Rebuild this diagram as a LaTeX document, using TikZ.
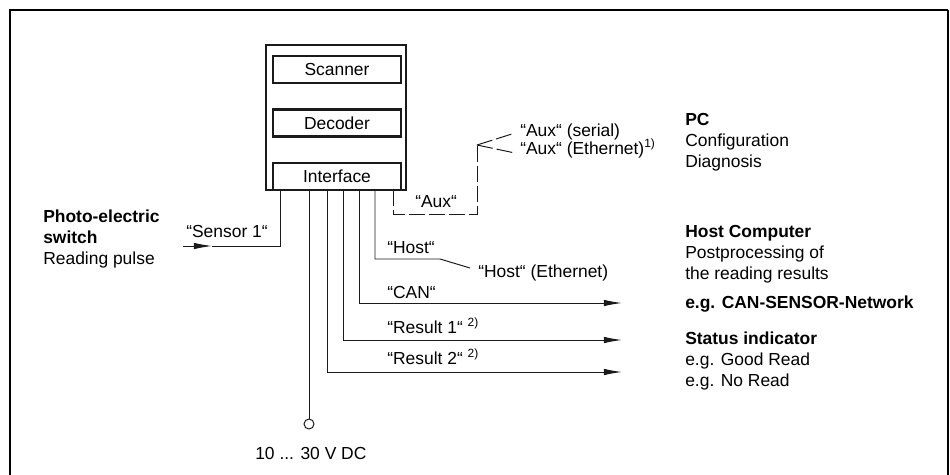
\documentclass[tikz,border=0pt]{standalone}
\usepackage{fontspec}
\setmainfont{Liberation Sans}
\usepackage{tikz}
\usetikzlibrary{arrows.meta,positioning,calc}
\definecolor{WireBlack}{HTML}{1A1A1A}
\newcommand{\fnmark}[1]{\raisebox{0.38em}{\fontsize{8.5}{9}\selectfont #1}}

\begin{document}
\begin{tikzpicture}[
    x=0.025cm,y=-0.025cm,
    every node/.style={font=\fontsize{12.4}{14.9}\selectfont, inner sep=0pt},
    unit/.style={draw=WireBlack, line width=1.5pt, minimum width=3.2cm, minimum height=0.675cm, align=center},
    housing/.style={draw=WireBlack, line width=1.6pt, minimum width=3.5cm, minimum height=3.625cm},
    wire/.style={draw=WireBlack, line width=0.7pt},
    outwire/.style={wire, -{Latex[length=4.5mm,width=1.6mm]}},
    auxline/.style={wire, dash pattern=on 0.4cm off 0.1cm},
    lbl/.style={anchor=base west},
    desc/.style={anchor=base west, align=left}
  ]
    \useasboundingbox (0,0) rectangle (950,475);
    % frame
    \draw[line width=1.5pt] (10,475) -- (10,10) -- (948,10);
    \draw[line width=0.8pt] (948,10) -- (948,475);

    % device
    \node[housing] (dev) at (336,117.5) {};
    \node[unit] (scan) at (337,69.5) {Scanner};
    \node[unit] (dec) at (337,123) {Decoder};
    \node[unit] (intf) at (337,176.5) {Interface};

    \foreach \n/\x in {tS/280,tP/309,tR2/327,tR1/343,tC/359,tH/375,tA/393}{\coordinate (\n) at (\x,190);}

    % Sensor 1 input
    \coordinate (sIn) at (183,246);
    \coordinate (sTip) at (212,246);
    \draw[outwire] (sIn) -- (sTip);
    \draw[wire] (sTip) -- (tS |- sIn) -- (tS);
    \node[lbl] (sens) at (186,237) {“Sensor 1“};
    % multi-line nodes: base = last line
    \node[desc] (photo) at (43,264) {\textbf{Photo-electric}\\\textbf{switch}\\Reading pulse};

    % supply
    \node[draw=WireBlack, line width=0.7pt, circle, minimum size=0.25cm] (pwr) at (309,424) {};
    \draw[wire] (tP) -- (pwr.north);
    \node[lbl] (volt) at (255,459) {10 ... 30 V DC};

    % outputs
    \coordinate (eC) at (622,303);
    \coordinate (eR1) at (622,340);
    \coordinate (eR2) at (622,372);
    \draw[outwire] (tC) -- (tC |- eC) -- (eC);
    \draw[outwire] (tR1) -- (tR1 |- eR1) -- (eR1);
    \draw[outwire] (tR2) -- (tR2 |- eR2) -- (eR2);
    \node[lbl] (can) at (387,298) {“CAN“};
    \node[lbl] (res1) at (387,333) {“Result 1“ \fnmark{2)}};
    \node[lbl] (res2) at (387,364) {“Result 2“ \fnmark{2)}};

    % host
    \coordinate (hK) at (440,259);
    \coordinate (hE) at (470,268);
    \draw[wire] (tH) -- (tH |- hK) -- (hK) -- (hE);
    \node[lbl] (hostl) at (387,253) {“Host“};
    \node[lbl] (hoste) at (478,277) {“Host“ (Ethernet)};

    % aux
    \coordinate (aV) at (477,145);
    \coordinate (aS) at (515,133);
    \coordinate (aE) at (515,153);
    \draw[auxline] (tA) -- ++(0,24) -| (aV);
    \draw[auxline] (aV) -- (aS);
    \draw[auxline] (aV) -- (aE);
    \node[lbl] (auxl) at (415,207) {“Aux“};
    \node[lbl] (auxs) at (520,136) {“Aux“ (serial)};
    \node[lbl] (auxe) at (520,154) {“Aux“ (Ethernet)\fnmark{1)}};

    % right column
    \node[desc] (pc) at (685,167) {\textbf{PC}\\Configuration\\Diagnosis};
    \node[desc] (host) at (685,279) {\textbf{Host Computer}\\Postprocessing of\\the reading results};
    \node[lbl] (net) at (685,308) {\textbf{e.g. CAN-SENSOR-Network}};
    \node[desc] (stat) at (685,386) {\textbf{Status indicator}\\e.g. Good Read\\e.g. No Read};
  \end{tikzpicture}
\end{document}
